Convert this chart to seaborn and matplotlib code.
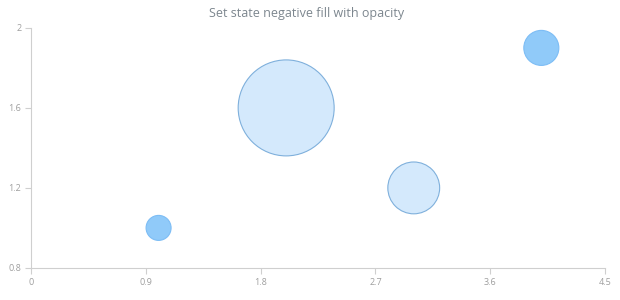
import matplotlib
matplotlib.use('Agg')
import matplotlib.pyplot as plt
import seaborn as sns
import pandas as pd

# bubble data: x, y and size (negative size = "negative" state)
x_vals = [1, 2, 3, 4]
y_vals = [1.0, 1.6, 1.2, 1.9]
bubble_sizes = [1.0, -11.0, -3.4, 1.7]

x_ticks = [0, 0.9, 1.8, 2.7, 3.6, 4.5]
x_labels = ['0', '0.9', '1.8', '2.7', '3.6', '4.5']
y_ticks = [0.8, 1.2, 1.6, 2.0]
y_labels = ['0.8', '1.2', '1.6', '2']

df = pd.DataFrame({
    'x': x_vals,
    'y': y_vals,
    'size': [abs(s) for s in bubble_sizes],
    'state': ['negative' if s < 0 else 'positive' for s in bubble_sizes],
})

sns.set_style('white')
plt.rcParams['font.family'] = ['Open Sans', 'DejaVu Sans']

fig = plt.figure(figsize=(6.2, 3.0), dpi=100)
ax = fig.add_axes([0.05, 0.107, 0.926, 0.8])

palette = {'positive': '#90caf9', 'negative': '#d4e9fc'}
edges = {'positive': '#7dbdf5', 'negative': '#7fb0dc'}

sns.scatterplot(data=df, x='x', y='y', hue='state', size='size',
                sizes=(324, 4776), palette=palette, legend=False,
                linewidth=0, ax=ax, zorder=3)
# outlines per state
coll = ax.collections[0]
coll.set_edgecolors([edges[s] for s in df['state']])
coll.set_linewidths(0.8)

ax.set_xlim(0, 4.5)
ax.set_ylim(0.8, 2.0)
ax.set_xticks(x_ticks)
ax.set_xticklabels(x_labels)
ax.set_yticks(y_ticks)
ax.set_yticklabels(y_labels)
ax.set_xlabel('')
ax.set_ylabel('')

for side in ['top', 'right']:
    ax.spines[side].set_visible(False)
for side in ['left', 'bottom']:
    ax.spines[side].set_color('#cfcfcf')
    ax.spines[side].set_linewidth(0.8)
ax.tick_params(axis='both', length=4, width=0.8, color='#cfcfcf',
               labelsize=6.5, labelcolor='#9e9e9e', pad=3)
ax.tick_params(axis='both', which='both', direction='out')
ax.xaxis.set_ticks_position('bottom')
ax.yaxis.set_ticks_position('left')

fig.text(0.494, 0.955, 'Set state negative fill with opacity',
         ha='center', va='center', fontsize=9, color='#7c868e')

fig.savefig('out.png', dpi=100, facecolor='white')
